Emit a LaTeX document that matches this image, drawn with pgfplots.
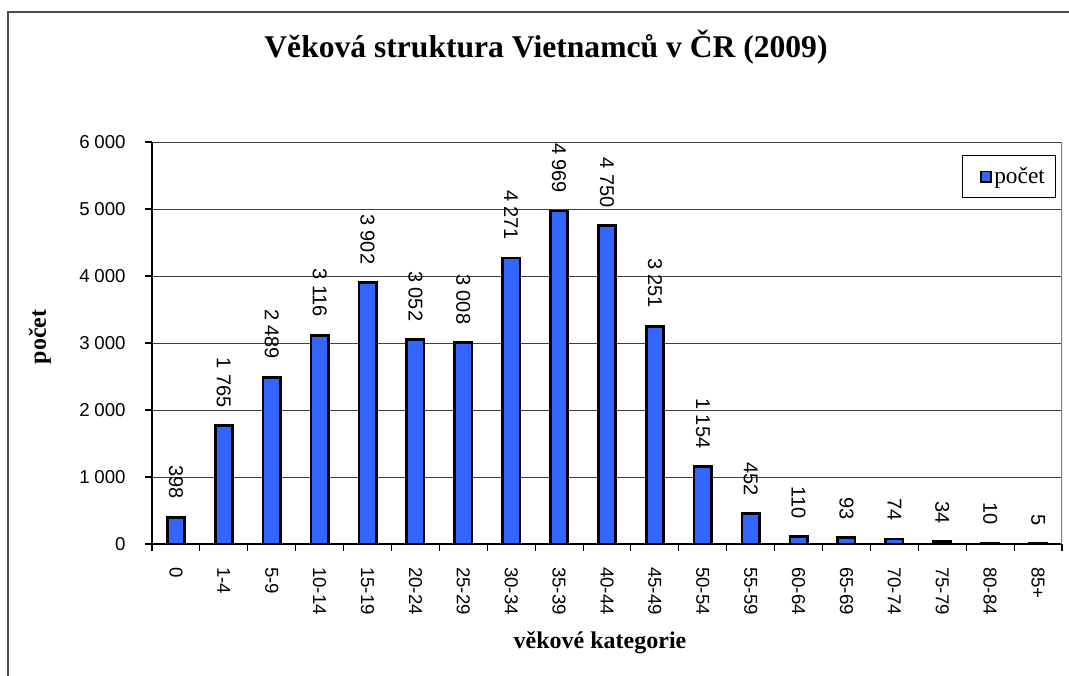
\documentclass[border=0pt]{standalone}
\usepackage{pgfplots}
\pgfplotsset{compat=1.18}
\usepackage{fontspec}
\setmainfont{Liberation Serif}
\setsansfont{Liberation Sans}
\definecolor{barblue}{HTML}{3366FF}
\begin{document}
\begin{tikzpicture}[x=0.75pt,y=0.75pt]
\useasboundingbox (0,0) rectangle (1069,675);
\fill[white] (0,0) rectangle (1069,675);
\draw[line width=1.5pt, black!70] (8,-5) -- (8,663) -- (1075,663);
\coordinate (O) at (152,131);
\node[font=\bfseries\fontsize{23.7}{23.7}\selectfont, anchor=base] at (546,617) {Věková struktura Vietnamců v ČR (2009)};
\node[font=\bfseries\fontsize{18}{18}\selectfont, anchor=base] at (600,27) {věkové kategorie};
\node[font=\bfseries\fontsize{18}{18}\selectfont, rotate=90] at (40,338) {počet};
\begin{axis}[
  at={(O)}, anchor=south west, scale only axis,
  width=682.5pt, height=301.5pt,
  xmin=-0.5, xmax=18.5, ymin=0, ymax=6000,
  axis x line*=bottom, axis y line*=left,
  axis line style={line width=1.1pt, black},
  tick align=outside,
  major tick length=5.25pt,
  minor tick length=5.25pt,
  ytick={0,1000,...,6000},
  xtick={0,...,18},
  xticklabels={0,1-4,5-9,10-14,15-19,20-24,25-29,30-34,35-39,40-44,45-49,50-54,55-59,60-64,65-69,70-74,75-79,80-84,85+},
  minor xtick={-0.5,0.5,...,18.5},
  major x tick style={draw=none},
  minor x tick style={black, line width=0.8pt},
  major y tick style={black, line width=0.8pt},
  ymajorgrids,
  major grid style={black!75, line width=0.75pt},
  /pgf/number format/.cd, 1000 sep={\hspace{0.25em}}, assume math mode=true, /pgfplots/.cd,
  xticklabel style={font=\sffamily\fontsize{14}{14}\selectfont, yshift=-8.6pt, rotate=-90, anchor=west},
  yticklabel style={font=\sffamily\fontsize{14}{14}\selectfont, xshift=-11pt},
  ybar, bar width=13pt,
  nodes near coords,
  every node near coord/.append style={font=\sffamily\fontsize{15}{15}\selectfont, yshift=12.75pt, rotate=-90, anchor=east, inner sep=0pt},
  legend style={at={(rel axis cs:1,1)}, anchor=north east, xshift=-4.5pt, yshift=-9.75pt,
    draw=black, line width=0.75pt, font=\fontsize{17.5}{17.5}\selectfont, inner xsep=6pt, inner ysep=7pt},
  legend image code/.code={\path (0pt,0pt); \draw[fill=barblue, draw=black, line width=1.3pt] (7pt,-3.8pt) rectangle (14.5pt,3.8pt);},
]
\addplot[fill=barblue, draw=black, line width=2pt] coordinates {
(0,398) (1,1765) (2,2489) (3,3116) (4,3902) (5,3052) (6,3008) (7,4271) (8,4969) (9,4750)
(10,3251) (11,1154) (12,452) (13,110) (14,93) (15,74) (16,34) (17,10) (18,5)};
\legend{počet}
\draw[black!50, line width=1.1pt] (rel axis cs:1,0) -- (rel axis cs:1,1);
\end{axis}
\end{tikzpicture}
\end{document}
